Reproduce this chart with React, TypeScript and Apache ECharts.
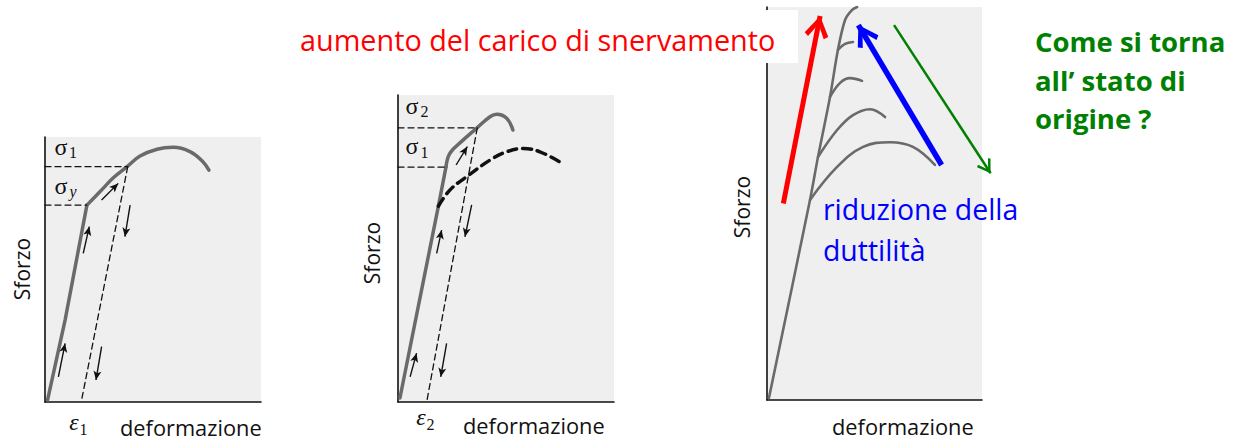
import React, { useEffect, useRef } from "react";
import * as echarts from "echarts";

type Pt = [number, number];

// ---------- Panel 1 : loading, unloading and reloading (σy → σ1) ----------
const p1Elastic: Pt[] = [[1.2, 0.8], [9.3, 30.9], [19.4, 74.3]];
const p1Plastic: Pt[] = [
  [19.4, 74.3], [25.5, 79.4], [31.5, 84.5], [38.0, 88.8], [44.0, 92.8],
  [51.9, 95.4], [59.3, 96.1], [67.1, 94.5], [73.1, 90.7], [75.9, 87.5],
];
const p1Unload: Pt[] = [[38.3, 88.8], [17.0, 1.0]];
const p1GuideSigmaY: Pt[] = [[0, 74.3], [19.4, 74.3]];
const p1GuideSigma1: Pt[] = [[0, 88.8], [38.0, 88.8]];
const p1Arrows: Pt[][] = [
  [[6.2, 9.5], [9.3, 22.1]],
  [[17.7, 56.1], [20.5, 66.2]],
  [[26.2, 76.2], [33.9, 82.5]],
  [[39.4, 74.3], [37.0, 62.4]],
  [[26.2, 20.9], [23.6, 8.3]],
];

// ---------- Panel 2 : second cycle (σ1 → σ2) ----------
const p2Elastic: Pt[] = [[0.9, 1.3], [18.7, 63.8], [22.2, 76.5]];
const p2Plastic: Pt[] = [
  [22.2, 76.5], [24.1, 81.1], [30.1, 85.3], [36.6, 89.3], [42.6, 92.9],
  [45.7, 93.7], [50.3, 92.4], [53.2, 88.6],
];
const p2Original: Pt[] = [
  [18.7, 63.8], [24.1, 69.1], [31.8, 73.4], [42.6, 78.8], [50.3, 81.5],
  [58.0, 82.6], [65.7, 81.5], [75.8, 77.8],
];
const p2Unload: Pt[] = [[36.7, 89.3], [13.3, 0.1]];
const p2GuideSigma2: Pt[] = [[0, 89.3], [36.6, 89.3]];
const p2GuideSigma1: Pt[] = [[0, 76.5], [22.2, 76.5]];
const p2Arrows: Pt[][] = [
  [[5.6, 8.2], [8.6, 15.9]],
  [[17.9, 48.4], [20.2, 56.0]],
  [[26.9, 77.2], [32.1, 83.2]],
  [[34.1, 64.2], [31.0, 53.8]],
  [[22.5, 19.1], [19.8, 8.2]],
];

// ---------- Panel 3 : repeated work hardening ----------
const p3Main: Pt[] = [
  [0.9, 0.5], [20.0, 50.9], [23.7, 61.8], [29.3, 77.1], [33.0, 89.1],
  [36.3, 96.7], [39.5, 99.2], [41.9, 100],
];
const p3Branch1: Pt[] = [[20.0, 50.9], [32.6, 59.3], [44.7, 64.4], [57.2, 65.6], [67.9, 64.4], [78.1, 59.8]];
const p3Branch2: Pt[] = [[23.7, 61.8], [32.6, 68.7], [40.0, 72.5], [47.9, 74.0], [54.9, 72.0]];
const p3Branch3: Pt[] = [[29.3, 77.1], [34.0, 80.7], [38.6, 81.9], [44.2, 81.2]];
const p3Branch4: Pt[] = [[33.0, 89.1], [36.3, 90.6], [40.0, 91.1]];
const p3Red: Pt[] = [[7.6, 50.0], [24.7, 97.7]];
const p3Blue: Pt[] = [[81.2, 59.8], [42.5, 95.4]];
const p3Green: Pt[] = [[59.1, 95.4], [104.0, 57.7]];

// ---------- texts ----------
const xTitle = "deformazione";
const yTitle = "Sforzo";
const redText = "aumento del carico di snervamento";
const blueLines = ["riduzione della", "duttilità"];
const greenLines = ["Come si torna", "all\u2019 stato di", "origine ?"];

const CURVE = "#6a6a6a";
const BG = "#efefef";

const BIG_HEAD =
  "path://M12,-22L12,-22M12,0L24,19L20,22L12,8L4,22L0,19Z";
const THIN_HEAD =
  "path://M8,-14L8,-14M8,0L16,12.5L14,14L8,4.5L2,14L0,12.5Z";

function axis(gridIndex: number) {
  return {
    gridIndex,
    type: "value",
    min: 0,
    max: 100,
    axisLine: { show: true, onZero: false, lineStyle: { color: "#111", width: 1.6 } },
    axisTick: { show: false },
    axisLabel: { show: false },
    splitLine: { show: false },
  };
}

function curve(data: Pt[], g: number, o: any = {}) {
  return {
    type: "line",
    xAxisIndex: g,
    yAxisIndex: g,
    data,
    symbol: "none",
    showSymbol: false,
    smooth: o.smooth ?? false,
    silent: true,
    z: o.z ?? 3,
    lineStyle: {
      color: o.color ?? CURVE,
      width: o.width ?? 3.5,
      type: o.dash ?? "solid",
      cap: "round",
      join: "round",
    },
  };
}

function arrows(segs: Pt[][], g: number, color: string, width: number, head: string, size: number[], z = 5) {
  return {
    type: "lines",
    coordinateSystem: "cartesian2d",
    xAxisIndex: g,
    yAxisIndex: g,
    data: segs.map((c) => ({ coords: c })),
    symbol: ["none", head],
    symbolSize: [size, size],
    clip: false,
    silent: true,
    z,
    lineStyle: { color, width, opacity: 1, curveness: 0 },
  };
}

function txt(text: string, x: number, y: number, size: number, o: any = {}) {
  const align = o.align ?? "left";
  const style: any = {
    text,
    fill: o.color ?? "#111",
    fontSize: size,
    fontFamily: o.family ?? "'Open Sans'",
    fontWeight: o.weight ?? "normal",
    fontStyle: o.style ?? "normal",
    textAlign: align,
    align,
    textVerticalAlign: "middle",
    verticalAlign: "middle",
  };
  if (o.lineHeight) style.lineHeight = o.lineHeight;
  return {
    type: "text",
    x,
    y,
    z: 20,
    rotation: o.rot ?? 0,
    silent: true,
    style,
  };
}

const SERIF = "'Liberation Serif'";

export default function App() {
  const ref = useRef<HTMLDivElement>(null);
  useEffect(() => {
    if (!ref.current) return;
    const chart = echarts.init(ref.current, null, { renderer: "svg" });
    const dash = [6, 4];
    const option: any = {
      animation: false,
      backgroundColor: "#ffffff",
      grid: [
        { left: 45, top: 137, width: 216, height: 265, show: true, backgroundColor: BG, borderWidth: 0 },
        { left: 398, top: 95, width: 216, height: 307, show: true, backgroundColor: BG, borderWidth: 0 },
        { left: 767, top: 7, width: 215, height: 393, show: true, backgroundColor: BG, borderWidth: 0 },
      ],
      xAxis: [axis(0), axis(1), axis(2)],
      yAxis: [axis(0), axis(1), axis(2)],
      series: [
        // panel 1
        curve(p1Elastic, 0),
        curve(p1Plastic, 0, { smooth: 0.4 }),
        curve(p1Unload, 0, { color: "#111", width: 1.3, dash }),
        curve(p1GuideSigmaY, 0, { color: "#111", width: 1.3, dash }),
        curve(p1GuideSigma1, 0, { color: "#111", width: 1.3, dash }),
        arrows(p1Arrows, 0, "#111", 1.4, "arrow", [6, 9]),
        // panel 2
        curve(p2Elastic, 1),
        curve(p2Plastic, 1, { smooth: 0.4 }),
        curve(p2Original, 1, { smooth: 0.4, color: "#111", width: 3.5, dash: [9, 6] }),
        curve(p2Unload, 1, { color: "#111", width: 1.3, dash }),
        curve(p2GuideSigma2, 1, { color: "#111", width: 1.3, dash }),
        curve(p2GuideSigma1, 1, { color: "#111", width: 1.3, dash }),
        arrows(p2Arrows, 1, "#111", 1.4, "arrow", [6, 9]),
        // panel 3
        curve(p3Main, 2, { smooth: 0.3, width: 2.6 }),
        curve(p3Branch1, 2, { smooth: 0.4, width: 2.6 }),
        curve(p3Branch2, 2, { smooth: 0.4, width: 2.6 }),
        curve(p3Branch3, 2, { smooth: 0.4, width: 2.6 }),
        curve(p3Branch4, 2, { smooth: 0.4, width: 2.6 }),
        arrows([p3Red], 2, "#ff0000", 5, BIG_HEAD, [24, 44]),
        arrows([p3Blue], 2, "#0000ff", 5.5, BIG_HEAD, [24, 44]),
        arrows([p3Green], 2, "#008000", 2.5, THIN_HEAD, [16, 28]),
      ],
      graphic: [
        // white box behind the red caption, hiding the top of panel 3's axis
        { type: "rect", z: 1, silent: true, shape: { x: 764, y: 10, width: 34, height: 53 }, style: { fill: "#ffffff" } },
        // axis titles
        txt(yTitle, 22, 269, 21, { rot: Math.PI / 2, align: "center" }),
        txt(yTitle, 372, 253, 21, { rot: Math.PI / 2, align: "center" }),
        txt(yTitle, 742, 207, 21, { rot: Math.PI / 2, align: "center" }),
        txt(xTitle, 120, 427, 21.8, { lineHeight: 20 }),
        txt(xTitle, 463, 425, 21.8, { lineHeight: 20 }),
        txt(xTitle, 832, 426.5, 21.8, { lineHeight: 20 }),
        // panel 1 symbols
        txt("σ", 61, 147, 24, { family: SERIF, align: "center" }),
        txt("1", 73, 152, 16, { family: SERIF, align: "center" }),
        txt("σ", 61, 186, 24, { family: SERIF, align: "center" }),
        txt("y", 73, 191, 16, { family: SERIF, align: "center", style: "italic" }),
        txt("ε", 74, 422, 24, { family: SERIF, align: "center", style: "italic" }),
        txt("1", 83.5, 429, 16, { family: SERIF, align: "center", lineHeight: 16 }),
        // panel 2 symbols
        txt("σ", 412, 106, 24, { family: SERIF, align: "center" }),
        txt("2", 424.5, 111, 16, { family: SERIF, align: "center" }),
        txt("σ", 412, 146, 24, { family: SERIF, align: "center" }),
        txt("1", 424.5, 152, 16, { family: SERIF, align: "center" }),
        txt("ε", 421, 417, 24, { family: SERIF, align: "center", style: "italic" }),
        txt("2", 430.5, 424, 16, { family: SERIF, align: "center" }),
        // captions
        txt(redText, 300, 39, 28.8, { color: "#ff0000" }),
        txt(blueLines[0], 823, 209, 28.4, { color: "#0000ff" }),
        txt(blueLines[1], 823, 250, 28.4, { color: "#0000ff" }),
        txt(greenLines[0], 1035, 41, 27.5, { color: "#008000", weight: "bold" }),
        txt(greenLines[1], 1035, 80, 27.5, { color: "#008000", weight: "bold" }),
        txt(greenLines[2], 1035, 118, 27.5, { color: "#008000", weight: "bold" }),
      ],
    };
    chart.setOption(option);
    return () => chart.dispose();
  }, []);
  return (
    <div
      ref={ref}
      style={{ position: "fixed", left: 0, top: 0, width: 1235, height: 441 }}
    />
  );
}
